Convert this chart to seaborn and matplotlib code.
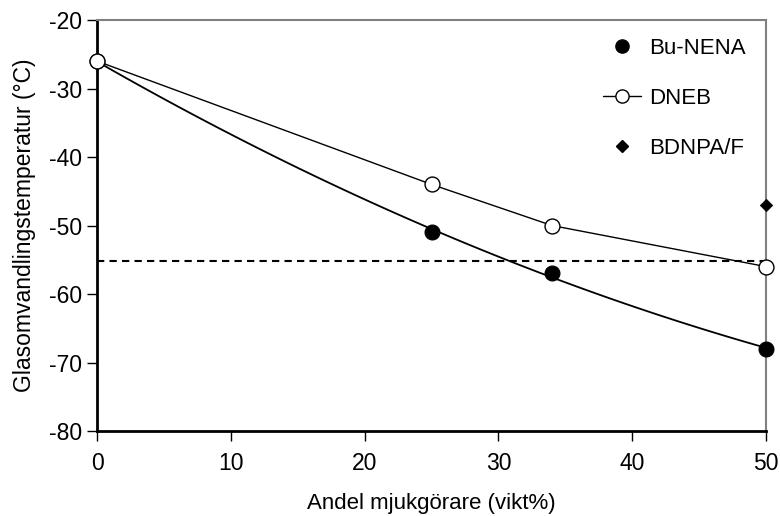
import matplotlib
matplotlib.use("Agg")
import matplotlib.pyplot as plt
from matplotlib.lines import Line2D
import pandas as pd
import seaborn as sns

# data
bu_nena_x = [0, 25, 34, 50]
bu_nena_y = [-26, -51, -57, -68]
dneb_x = [0, 25, 34, 50]
dneb_y = [-26, -44, -50, -56]
bdnpa_x = [50]
bdnpa_y = [-47]
ref_level = -55.2

x_ticks = [0, 10, 20, 30, 40, 50]
y_ticks = [-80, -70, -60, -50, -40, -30, -20]

sns.set_theme(style="ticks")
plt.rcParams["font.family"] = ["Liberation Sans", "DejaVu Sans"]
plt.rcParams["font.size"] = 16
plt.rcParams["axes.unicode_minus"] = False
plt.rcParams["text.color"] = "black"
plt.rcParams["axes.labelcolor"] = "black"

bu = pd.DataFrame({"x": bu_nena_x, "y": bu_nena_y})
dn = pd.DataFrame({"x": dneb_x, "y": dneb_y})
bd = pd.DataFrame({"x": bdnpa_x, "y": bdnpa_y})

fig = plt.figure(figsize=(7.8, 5.16), dpi=100)
ax = fig.add_axes([0.1244, 0.1647, 0.8577, 0.7965])

ax.axhline(ref_level, color="black", linestyle=(0, (3.5, 2.5)), linewidth=1.5, zorder=1)

# second order fit for Bu-NENA
sns.regplot(data=bu, x="x", y="y", order=2, ci=None, scatter=False, truncate=True,
            line_kws={"color": "black", "linewidth": 1.3}, ax=ax)
sns.lineplot(data=dn, x="x", y="y", color="black", linewidth=1.0, ax=ax, zorder=2)

sns.scatterplot(data=bu, x="x", y="y", color="black", s=115, edgecolor="black",
                linewidth=0.8, ax=ax, zorder=5, clip_on=False)
sns.scatterplot(data=dn, x="x", y="y", color="white", s=115, edgecolor="black",
                linewidth=1.0, ax=ax, zorder=5, clip_on=False)
sns.scatterplot(data=bd, x="x", y="y", color="black", marker="D", s=40, edgecolor="black",
                ax=ax, zorder=5, clip_on=False)

ax.set_xlim(0, 50)
ax.set_ylim(-80, -20)
ax.set_xticks(x_ticks)
ax.set_yticks(y_ticks)
ax.set_xlabel("Andel mjukgörare (vikt%)", fontsize=16, labelpad=13, color="black")
ax.set_ylabel("Glasomvandlingstemperatur (°C)", fontsize=16.5, labelpad=9, color="black")
ax.tick_params(axis="both", direction="out", length=7, width=1.0, labelsize=16.5,
               colors="black")
ax.tick_params(axis="x", pad=8)
ax.tick_params(axis="y", pad=4)

for side in ["left", "bottom"]:
    ax.spines[side].set_color("black")
    ax.spines[side].set_linewidth(2.0)
for side in ["top", "right"]:
    ax.spines[side].set_visible(True)
    ax.spines[side].set_color("#808080")
    ax.spines[side].set_linewidth(1.5)

handles = [
    Line2D([], [], linestyle="none", marker="o", markersize=9.5, color="black"),
    Line2D([], [], color="black", linewidth=1.0, marker="o", markersize=9.5,
           markerfacecolor="white", markeredgecolor="black"),
    Line2D([], [], linestyle="none", marker="D", markersize=6.5, color="black"),
]
ax.legend(handles, ["Bu-NENA", "DNEB", "BDNPA/F"], loc="upper right", frameon=False,
          fontsize=16, handlelength=1.7, handletextpad=0.35, labelspacing=1.3,
          bbox_to_anchor=(0.999, 1.005), labelcolor="black")

fig.savefig("out.png", dpi=100, facecolor="white")
